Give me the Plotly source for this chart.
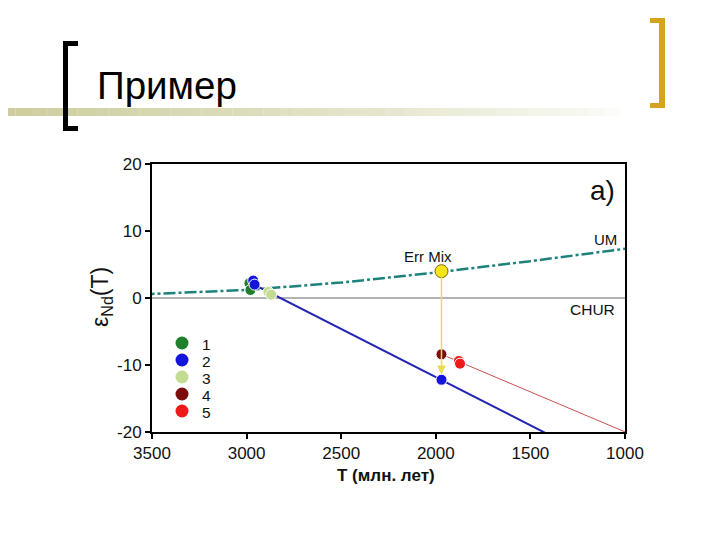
import plotly.graph_objects as go

# model curves
um_t = [3550, 3500, 3000, 2500, 2000, 1500, 1000, 960]
um_eps = [0.55, 0.6, 1.2, 2.3, 3.8, 5.5, 7.3, 7.5]

blue_line_t = [2960, 1970, 1375]
blue_line_eps = [2.0, -12.2, -20.8]

red_line_t = [1970, 1000, 965]
red_line_eps = [-8.4, -20.0, -20.4]

# sample groups
groups = ["1", "2", "3", "4", "5"]
group_colors = ["#1f7f2a", "#1414dc", "#c3dc94", "#7d0c0c", "#ee1a1a"]
group_t = [
    [2985, 2980],
    [2965, 2958, 1970],
    [2885, 2870],
    [1970],
    [1878, 1872],
]
group_eps = [
    [2.2, 1.2],
    [2.6, 2.0, -12.2],
    [0.9, 0.5],
    [-8.4],
    [-9.4, -9.8],
]

errmix_t = [1970]
errmix_eps = [4.0]
arrow_end_eps = -11.4

x_ticks = [3500, 3000, 2500, 2000, 1500, 1000]
y_ticks = [-20, -10, 0, 10, 20]
y_ticktext = ["-20", "-10", "0", "10", "20"]

FONT = "Liberation Sans, Arial, sans-serif"
W, H = 720, 540
OFF = 8  # page body margin in the browser

fig = go.Figure()

fig.add_trace(go.Scatter(x=um_t, y=um_eps, mode="lines", showlegend=False,
                         line=dict(color="#1d827c", width=2.5, dash="12px,3px,3px,3px")))
fig.add_trace(go.Scatter(x=blue_line_t, y=blue_line_eps, mode="lines", showlegend=False,
                         line=dict(color="#2424b4", width=2)))
fig.add_trace(go.Scatter(x=red_line_t, y=red_line_eps, mode="lines", showlegend=False,
                         line=dict(color="#c85050", width=1)))

for name, col, tt, ee in zip(groups, group_colors, group_t, group_eps):
    fig.add_trace(go.Scatter(x=tt, y=ee, mode="markers", name=name, showlegend=False,
                             marker=dict(color=col, size=11, line=dict(color="white", width=1))))

fig.add_trace(go.Scatter(x=errmix_t, y=errmix_eps, mode="markers", showlegend=False,
                         marker=dict(color="#f7e41a", size=13, line=dict(color="#7a6a10", width=1))))

# yellow arrow from Err Mix down to the crustal line
fig.add_annotation(x=errmix_t[0], y=arrow_end_eps, ax=errmix_t[0], ay=errmix_eps[0] - 0.6,
                   xref="x", yref="y", axref="x", ayref="y", text="", showarrow=True,
                   arrowhead=2, arrowsize=1.2, arrowwidth=1.5, arrowcolor="#e6df55")


def px(x, y):
    return (x - OFF) / W, 1 - (y - OFF) / H


def label(x, y, text, size, **kw):
    xx, yy = px(x, y)
    kw.setdefault("xanchor", "center")
    fig.add_annotation(x=xx, y=yy, xref="paper", yref="paper", text=text, showarrow=False,
                       yanchor="middle",
                       font=dict(family=FONT, size=size, color=kw.pop("color", "#111111")), **kw)


label(602, 190, "a)", 28)
label(605, 240, "UM", 15)
label(428, 256, "Err Mix", 15)
label(592, 309, "CHUR", 15.5)
label(101, 297, "ε<sub>Nd</sub>(T)", 23, textangle=-90)
label(386, 475, "<b>T (млн. лет)</b>", 17)
label(95, 86, "Пример", 38.5, xanchor="left", color="#000000")

shapes = []

# legend keys, drawn compactly like the original
for i, (name, col) in enumerate(zip(groups, group_colors)):
    cy = 343 + 17 * i
    x0, y0 = px(175.5, cy + 6.5)
    x1, y1 = px(188.5, cy - 6.5)
    shapes.append(dict(type="circle", xref="paper", yref="paper", x0=x0, x1=x1, y0=y0, y1=y1,
                       fillcolor=col, line=dict(width=0)))
    label(200, cy + 1, name, 15.5, xanchor="left")

# fading underline bar
n = 40
seg = 620 / n
for i in range(n):
    x0, y0 = px(i * seg, 116)
    x1, y1 = px((i + 1) * seg, 108)
    shapes.append(dict(type="rect", xref="paper", yref="paper", x0=x0, x1=x1, y0=y0, y1=y1,
                       fillcolor="#c9c996", opacity=0.9 * (1 - i / n) ** 0.8 + 0.03,
                       line=dict(width=0), layer="below"))


def bracket(xv0, xv1, xa, y0, y1, col):
    th = 5
    rects = [(xv0, xv1, y0, y1),
             (min(xv0, xa), max(xv1, xa), y0, y0 + th),
             (min(xv0, xa), max(xv1, xa), y1 - th, y1)]
    res = []
    for a, b, c, d in rects:
        ax0, ay0 = px(a, d)
        ax1, ay1 = px(b, c)
        res.append(dict(type="rect", xref="paper", yref="paper", x0=ax0, x1=ax1, y0=ay0, y1=ay1,
                        fillcolor=col, line=dict(width=0)))
    return res


shapes += bracket(63, 68, 78, 41, 131, "#000000")
shapes += bracket(659, 665, 650, 18, 108, "#d4a51c")

axis_common = dict(showgrid=False, zeroline=False, showline=True, mirror=True, linecolor="black",
                   linewidth=2, ticks="outside", ticklen=5, tickwidth=1.5, tickcolor="black",
                   tickfont=dict(family=FONT, size=17, color="#111111"), automargin=False)

x_dom = [px(152, 0)[0], px(625, 0)[0]]
y_dom = [px(0, 432)[1], px(0, 164)[1]]

fig.update_layout(
    width=W, height=H,
    margin=dict(l=0, r=0, t=0, b=0, autoexpand=False),
    paper_bgcolor="white", plot_bgcolor="white",
    shapes=shapes,
    showlegend=False,
    xaxis=dict(domain=x_dom, range=[3500, 1000], tickvals=x_ticks, **axis_common),
    yaxis=dict(domain=y_dom, range=[-20, 20], tickvals=y_ticks,
               ticktext=y_ticktext, **axis_common),
)

# CHUR reference
fig.add_hline(y=0, line=dict(color="#666666", width=1), layer="below")

fig.write_html("out.html")
